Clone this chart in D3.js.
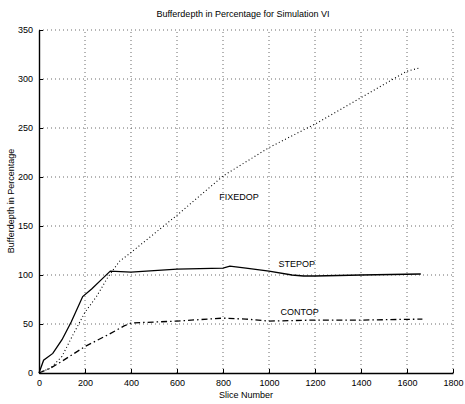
<!DOCTYPE html>
<html><head><meta charset="utf-8">
<script src="https://cdn.jsdelivr.net/npm/d3@7"></script>
<style>body{margin:0;background:#fff}text{font-family:"Liberation Sans",Arial,sans-serif;fill:#000}</style>
</head><body><svg id="c" width="465" height="404"></svg>
<script>
const title = "Bufferdepth in Percentage for Simulation VI";
const xLabel = "Slice Number";
const yLabel = "Bufferdepth in Percentage";
const xTicks = [0,200,400,600,800,1000,1200,1400,1600,1800];
const yTicks = [0,50,100,150,200,250,300,350];

const fixedX = [0,50,100,150,200,250,300,350,400,600,800,1000,1200,1400,1600,1650];
const fixedY = [0,5,17,40,62,78,98,114,123,161,201,230,254,281,308,311];

const stepX = [0,20,60,100,140,190,230,270,310,400,600,800,830,900,1000,1100,1150,1200,1400,1660];
const stepY = [0,13,20,34,52,78,86,95,104,103,106,107,109,107,104,100,99,99,100,101];

const contX = [0,50,100,200,300,370,400,600,800,900,1000,1200,1400,1667];
const contY = [0,5,12,27,39,48,51,53,56,55,53,54,54,55];

const labels = [
  {text:"FIXEDOP", x:870, y:177},
  {text:"STEPOP", x:1121, y:108},
  {text:"CONTOP", x:1133, y:59}
];

const svg = d3.select("#c");
const x = d3.scaleLinear().domain([0,1800]).range([39,453]);
const y = d3.scaleLinear().domain([0,350]).range([373,30]);

// grid
const g = svg.append("g");
g.selectAll(".vg").data(xTicks.filter(d=>d>0)).enter().append("line")
  .attr("x1",d=>x(d)).attr("x2",d=>x(d)).attr("y1",y(0)).attr("y2",y(350))
  .attr("stroke","#444").attr("stroke-width",0.8).attr("stroke-dasharray","1,3");
g.selectAll(".hg").data(yTicks.filter(d=>d>0)).enter().append("line")
  .attr("x1",x(0)).attr("x2",x(1800)).attr("y1",d=>y(d)).attr("y2",d=>y(d))
  .attr("stroke","#444").attr("stroke-width",0.8).attr("stroke-dasharray","1,3");

// axes
const xa = svg.append("g").attr("transform",`translate(0,${y(0)})`)
  .call(d3.axisBottom(x).tickValues(xTicks).tickFormat(d3.format("d")).tickSizeInner(-4).tickSizeOuter(0).tickPadding(7));
const ya = svg.append("g").attr("transform",`translate(${x(0)},0)`)
  .call(d3.axisLeft(y).tickValues(yTicks).tickFormat(d3.format("d")).tickSizeInner(-4).tickSizeOuter(0).tickPadding(6));
[xa,ya].forEach(a=>{
  a.select(".domain").attr("stroke","#000").attr("stroke-width",1.4);
  a.selectAll(".tick line").attr("stroke","#000").attr("stroke-width",1);
  a.selectAll(".tick text").attr("font-size",9).attr("font-family","Liberation Sans, Arial, sans-serif").attr("fill","#000");
});

const line = d3.line().x(d=>x(d[0])).y(d=>y(d[1]));
function draw(xs,ys,dash,w){
  svg.append("path").datum(xs.map((v,i)=>[v,ys[i]]))
    .attr("d",line).attr("fill","none").attr("stroke","#000")
    .attr("stroke-width",w).attr("stroke-dasharray",dash);
}
draw(fixedX,fixedY,"1,2.5",1.1);
draw(stepX,stepY,null,1.3);
draw(contX,contY,"6,3,1.5,3",1.3);

svg.selectAll(".lab").data(labels).enter().append("text")
  .attr("x",d=>x(d.x)).attr("y",d=>y(d.y)).attr("text-anchor","middle")
  .attr("font-size",9).text(d=>d.text);

svg.append("text").attr("x",243).attr("y",17).attr("text-anchor","middle").attr("font-size",9).text(title);
svg.append("text").attr("x",246).attr("y",398).attr("text-anchor","middle").attr("font-size",9).text(xLabel);
svg.append("text").attr("transform","translate(14,201) rotate(-90)").attr("text-anchor","middle").attr("font-size",9).text(yLabel);
</script></body></html>
